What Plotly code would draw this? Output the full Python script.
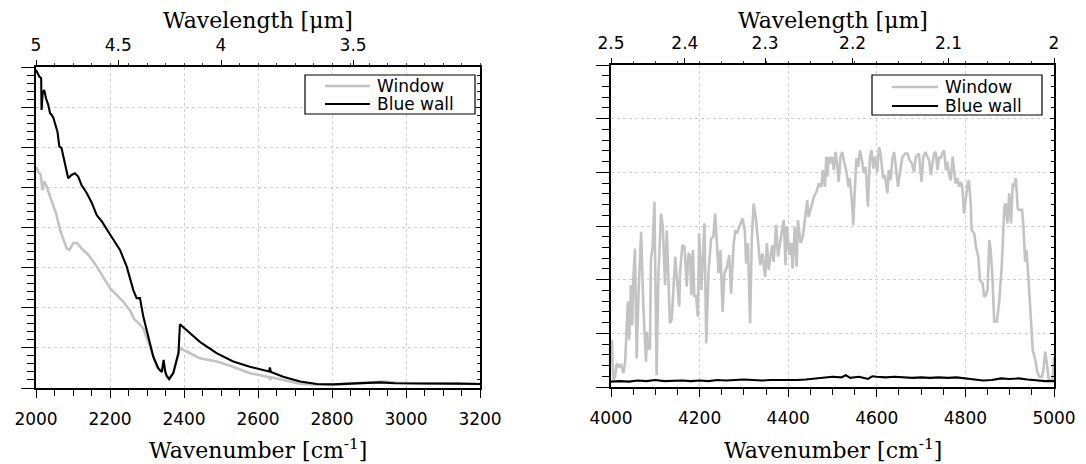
import plotly.graph_objects as go

# ---- 2000-3200 cm-1 range -------------------------------------------------
wall_wn_mir = [2000, 2005, 2009, 2014, 2015, 2018, 2022, 2027, 2033, 2038, 2042, 2047,
               2051, 2058, 2063, 2069, 2074, 2081, 2087, 2096, 2105, 2114, 2123, 2137,
               2151, 2164, 2178, 2195, 2213, 2227, 2245, 2263, 2272, 2281, 2290, 2304,
               2317, 2331, 2340, 2345, 2349, 2353, 2360, 2371, 2385, 2389, 2407, 2443,
               2488, 2533, 2578, 2630, 2632, 2635, 2668, 2714, 2759, 2803, 2849, 2890,
               2930, 2970, 3020, 3080, 3140, 3200]
wall_val_mir = [7.93, 7.82, 7.76, 7.72, 6.93, 7.35, 7.43, 7.22, 7.06, 6.85, 6.81, 6.73,
                6.60, 6.39, 6.02, 5.98, 5.77, 5.44, 5.23, 5.31, 5.35, 5.27, 5.06, 4.86,
                4.61, 4.31, 4.15, 3.90, 3.65, 3.44, 3.03, 2.44, 2.24, 2.24, 1.78, 1.28,
                0.78, 0.48, 0.40, 0.70, 0.42, 0.30, 0.22, 0.37, 0.87, 1.59, 1.45, 1.15,
                0.87, 0.66, 0.53, 0.41, 0.51, 0.40, 0.28, 0.16, 0.10, 0.09, 0.11, 0.12,
                0.14, 0.12, 0.12, 0.11, 0.11, 0.10]

window_wn_mir = [2000, 2006, 2013, 2017, 2022, 2029, 2038, 2045, 2054, 2065, 2074, 2083,
                 2090, 2101, 2110, 2123, 2137, 2146, 2164, 2182, 2200, 2218, 2236, 2255,
                 2265, 2272, 2281, 2290, 2308, 2326, 2340, 2346, 2350, 2358, 2371, 2385,
                 2389, 2407, 2443, 2488, 2533, 2578, 2622, 2630, 2633, 2636, 2668, 2714,
                 2760, 2800, 2850, 2900, 2940, 2980, 3040, 3100, 3150, 3200]
window_val_mir = [5.52, 5.39, 5.31, 4.94, 5.15, 5.02, 4.77, 4.61, 4.36, 3.94, 3.69, 3.48,
                  3.44, 3.61, 3.62, 3.48, 3.36, 3.27, 3.03, 2.76, 2.49, 2.32, 2.15, 1.92,
                  1.72, 1.66, 1.58, 1.49, 1.03, 0.53, 0.42, 0.55, 0.38, 0.24, 0.37, 0.85,
                  0.99, 0.91, 0.74, 0.66, 0.53, 0.37, 0.28, 0.27, 0.20, 0.27, 0.20, 0.11,
                  0.08, 0.08, 0.11, 0.13, 0.16, 0.13, 0.11, 0.11, 0.10, 0.10]

# ---- 4000-5000 cm-1 range -------------------------------------------------
window_wn_nir = [4002, 4005, 4009, 4013, 4018, 4023, 4028, 4032, 4038, 4041, 4045, 4048,
                 4050, 4054, 4058, 4062, 4068, 4073, 4079, 4081, 4084, 4088, 4090, 4094,
                 4098, 4103, 4107, 4113, 4117, 4122, 4126, 4130, 4133, 4137, 4145, 4149,
                 4154, 4156, 4161, 4166, 4171, 4175, 4179, 4181, 4185, 4188, 4192, 4196,
                 4199, 4204, 4209, 4211, 4215, 4220, 4226, 4231, 4235, 4239, 4243, 4247,
                 4252, 4256, 4262, 4267, 4271, 4277, 4281, 4284, 4288, 4292, 4297, 4302,
                 4305, 4309, 4314, 4318, 4322, 4327, 4332, 4337, 4342, 4348, 4352, 4356,
                 4360, 4364, 4367, 4373, 4377, 4382, 4386, 4390, 4394, 4397, 4403, 4407,
                 4410, 4415, 4419, 4422, 4428, 4433, 4437, 4443, 4446, 4452, 4458, 4464,
                 4469, 4475, 4478, 4483, 4486, 4488, 4492, 4495, 4499, 4503, 4507, 4511,
                 4514, 4518, 4522, 4526, 4531, 4536, 4539, 4543, 4547, 4550, 4554, 4558,
                 4562, 4567, 4571, 4575, 4580, 4584, 4588, 4592, 4596, 4601, 4605, 4609,
                 4614, 4618, 4624, 4627, 4631, 4635, 4639, 4643, 4648, 4654, 4658, 4664,
                 4669, 4674, 4679, 4684, 4688, 4695, 4701, 4705, 4710, 4714, 4718, 4722,
                 4726, 4729, 4733, 4737, 4741, 4744, 4748, 4752, 4756, 4759, 4763, 4767,
                 4771, 4774, 4778, 4782, 4786, 4790, 4793, 4797, 4801, 4805, 4808, 4812,
                 4814, 4820, 4824, 4829, 4833, 4839, 4842, 4846, 4850, 4854, 4857, 4861,
                 4865, 4871, 4876, 4882, 4888, 4891, 4895, 4899, 4903, 4907, 4910, 4914,
                 4918, 4921, 4928, 4931, 4935, 4938, 4943, 4948, 4952, 4958, 4962, 4967,
                 4973, 4976, 4980, 4984, 4988, 4997, 5000]
window_val_nir = [0.88, 0.13, 0.19, 0.44, 0.38, 0.41, 0.26, 0.47, 1.59, 0.88, 1.90, 1.15,
                  1.93, 2.58, 0.53, 1.71, 2.89, 1.50, 0.47, 1.03, 0.72, 0.72, 2.36, 2.61,
                  3.45, 0.22, 2.09, 3.23, 2.99, 1.90, 2.92, 1.87, 1.19, 1.25, 2.43, 1.99,
                  1.50, 2.15, 2.64, 2.61, 1.87, 2.49, 2.43, 1.71, 2.55, 1.68, 1.71, 1.31,
                  2.86, 1.81, 2.92, 3.05, 0.81, 2.12, 2.77, 2.80, 3.23, 2.61, 2.12, 2.55,
                  1.40, 2.12, 2.24, 2.46, 1.74, 2.68, 2.92, 2.86, 2.95, 3.05, 3.14, 2.92,
                  2.30, 2.68, 1.19, 2.80, 3.42, 3.14, 2.68, 2.27, 2.49, 2.05, 2.68, 2.18,
                  2.43, 2.64, 2.33, 3.02, 2.43, 2.74, 2.92, 3.11, 2.27, 2.99, 2.46, 2.68,
                  2.21, 2.99, 2.24, 3.11, 2.68, 2.80, 3.11, 3.48, 3.17, 3.36, 3.54, 3.64,
                  3.79, 3.73, 4.04, 3.73, 4.29, 3.92, 4.29, 4.17, 4.29, 4.04, 4.38, 4.10,
                  3.82, 4.29, 4.38, 4.20, 4.04, 3.73, 3.89, 3.54, 3.02, 3.61, 4.26, 4.10,
                  4.41, 4.20, 3.98, 4.10, 3.36, 4.23, 4.41, 4.07, 4.29, 4.01, 4.47, 4.32,
                  3.89, 3.95, 3.61, 4.04, 3.85, 4.23, 4.38, 4.10, 3.73, 4.10, 4.29, 4.35,
                  4.35, 4.23, 4.17, 4.01, 4.29, 4.35, 3.82, 4.29, 4.38, 4.29, 4.23, 3.95,
                  4.23, 4.35, 4.38, 4.04, 4.29, 4.26, 4.35, 4.41, 4.04, 4.20, 3.98, 3.85,
                  4.29, 4.10, 3.79, 3.89, 3.73, 3.82, 3.73, 3.23, 3.48, 3.79, 3.85, 3.42,
                  2.92, 2.86, 2.61, 2.43, 1.99, 1.93, 1.68, 1.71, 1.81, 2.74, 2.55, 2.05,
                  1.22, 1.22, 1.56, 2.24, 3.36, 3.42, 3.05, 3.61, 3.05, 3.79, 3.73, 3.89,
                  3.33, 3.30, 3.30, 2.99, 2.33, 2.55, 1.93, 1.31, 0.69, 0.50, 0.29, 0.19,
                  0.19, 0.32, 0.66, 0.44, 0.13, 0.13, 0.56]

wall_wn_nir = [4000, 4020, 4040, 4060, 4080, 4100, 4120, 4140, 4160, 4180, 4200, 4220,
               4240, 4260, 4280, 4300, 4320, 4340, 4360, 4380, 4400, 4420, 4440, 4460,
               4480, 4500, 4520, 4530, 4540, 4560, 4580, 4590, 4600, 4620, 4640, 4660,
               4680, 4700, 4720, 4740, 4760, 4780, 4800, 4820, 4840, 4860, 4880, 4900,
               4920, 4940, 4960, 4980, 5000]
wall_val_nir = [0.10, 0.11, 0.10, 0.12, 0.11, 0.13, 0.11, 0.12, 0.12, 0.11, 0.12, 0.11,
                0.13, 0.12, 0.13, 0.14, 0.13, 0.12, 0.13, 0.13, 0.12, 0.13, 0.14, 0.16,
                0.17, 0.19, 0.18, 0.22, 0.17, 0.19, 0.15, 0.20, 0.19, 0.18, 0.19, 0.18,
                0.17, 0.18, 0.17, 0.18, 0.17, 0.18, 0.16, 0.15, 0.12, 0.13, 0.16, 0.15,
                0.16, 0.14, 0.12, 0.11, 0.11]

# ---- axis labels -----------------------------------------------------------
wn_ticks_mir = [2000, 2200, 2400, 2600, 2800, 3000, 3200]
wn_ticks_nir = [4000, 4200, 4400, 4600, 4800, 5000]
um_labels_mir = ["5", "4.5", "4", "3.5"]
um_labels_nir = ["2.5", "2.4", "2.3", "2.2", "2.1", "2"]
series_names = ["Window", "Blue wall"]

GRAY = "#c3c3c3"
BLACK = "#000000"
SANS = "DejaVu Sans"
SERIF = "DejaVu Serif"
W, H = 1086, 464
LINE_W = {"Window": 2.6, "Blue wall": 2.1}
COLORS = {"Window": GRAY, "Blue wall": BLACK}


def um_to_wn(labels):
    return [1e4 / float(s) for s in labels]


fig = go.Figure()

panels = [
    ("x", "y", [(window_wn_mir, window_val_mir), (wall_wn_mir, wall_val_mir)]),
    ("x3", "y2", [(window_wn_nir, window_val_nir), (wall_wn_nir, wall_val_nir)]),
]
for xa, ya, series in panels:
    for name, (xs, ys) in zip(series_names, series):
        fig.add_trace(go.Scatter(x=xs, y=ys, mode="lines", name=name,
                                 line=dict(color=COLORS[name], width=LINE_W[name]),
                                 xaxis=xa, yaxis=ya, showlegend=False))

# invisible traces keep the overlay axes alive
fig.add_trace(go.Scatter(x=[2000], y=[0], xaxis="x2", yaxis="y3", mode="lines",
                         showlegend=False, hoverinfo="skip", line=dict(width=0)))
fig.add_trace(go.Scatter(x=[4000], y=[0], xaxis="x4", yaxis="y4", mode="lines",
                         showlegend=False, hoverinfo="skip", line=dict(width=0)))

# plot-area placement (pixels -> paper)
L_X = [36 / W, 480 / W]
R_X = [611 / W, 1054 / W]
L_Y = [1 - 388 / H, 1 - 67 / H]
R_Y = [1 - 387 / H, 1 - 65 / H]

tickfont = dict(family=SANS, size=17, color="black")
axline = dict(showline=True, linecolor="black", linewidth=1.5, zeroline=False,
              automargin=False)
grid = dict(showgrid=True, gridcolor="#cfcfcf", griddash="dot", gridwidth=1)


def bottom_axis(dom, rng, ticks, anchor):
    return dict(domain=dom, range=rng, anchor=anchor, tickmode="array", tickvals=ticks,
                ticks="outside", ticklen=8, tickwidth=1.3, tickcolor="black",
                tickfont=tickfont, ticklabelstandoff=7,
                minor=dict(dtick=50, tick0=rng[0], ticks="outside", ticklen=6,
                           tickwidth=1.1, tickcolor="black", showgrid=False),
                **axline, **grid)


def top_axis(rng, labels, overlay, anchor):
    return dict(range=rng, overlaying=overlay, side="top", anchor=anchor,
                tickmode="array", tickvals=um_to_wn(labels), ticktext=labels,
                ticks="outside", ticklen=5, tickwidth=1.3, tickcolor="black",
                tickfont=tickfont, ticklabelstandoff=2, showgrid=False,
                minor=dict(tickmode="linear", tick0=rng[0], dtick=50, ticks="outside",
                           ticklen=2, tickwidth=1, tickcolor="#444444", showgrid=False),
                **axline)


def left_axis(dom, rng, anchor):
    return dict(domain=dom, range=rng, anchor=anchor, dtick=1, showticklabels=False,
                ticks="outside", ticklen=13, tickwidth=1.3, tickcolor="black",
                minor=dict(dtick=0.2, ticks="outside", ticklen=7, tickwidth=1.1,
                           tickcolor="black", showgrid=False),
                **axline, **grid)


def right_axis(rng, overlay, anchor):
    return dict(range=rng, overlaying=overlay, side="right", anchor=anchor, dtick=1,
                showticklabels=False, ticks="inside", ticklen=4, tickwidth=1,
                tickcolor="black", showgrid=False,
                minor=dict(dtick=0.2, ticks="inside", ticklen=3, tickwidth=1,
                           tickcolor="black"),
                **axline)


fig.update_layout(
    width=W, height=H,
    margin=dict(l=0, r=0, t=0, b=0, autoexpand=False),
    paper_bgcolor="white", plot_bgcolor="white",
    showlegend=False,
    xaxis=bottom_axis(L_X, [2000, 3200], wn_ticks_mir, "y"),
    xaxis2=top_axis([2000, 3200], um_labels_mir, "x", "y"),
    xaxis3=bottom_axis(R_X, [4000, 5000], wn_ticks_nir, "y2"),
    xaxis4=top_axis([4000, 5000], um_labels_nir, "x3", "y2"),
    yaxis=left_axis(L_Y, [0, 8], "x"),
    yaxis2=left_axis(R_Y, [0, 6], "x3"),
    yaxis3=right_axis([0, 8], "y", "x"),
    yaxis4=right_axis([0, 6], "y2", "x3"),
)

# legend boxes (paper pixels: left, top, right, bottom, sample start/end, row centres)
legend_boxes = [
    dict(box=(305, 75, 475, 114), sample=(325, 370), rows=(86, 104)),
    dict(box=(872, 75, 1042, 115), sample=(892, 938), rows=(87, 106)),
]
legend_font = dict(family=SANS, size=17, color="black")
for lb in legend_boxes:
    x0, y0, x1, y1 = lb["box"]
    fig.add_shape(type="rect", xref="paper", yref="paper",
                  x0=x0 / W, x1=x1 / W, y0=1 - y1 / H, y1=1 - y0 / H,
                  line=dict(color="black", width=1.2), fillcolor="white", layer="above")
    s0, s1 = lb["sample"]
    for name, ry in zip(series_names, lb["rows"]):
        fig.add_shape(type="line", xref="paper", yref="paper",
                      x0=s0 / W, x1=s1 / W, y0=1 - ry / H, y1=1 - ry / H,
                      line=dict(color=COLORS[name], width=LINE_W[name]), layer="above")
        fig.add_annotation(text=name, x=(s1 + 5) / W, y=1 - ry / H, xref="paper",
                           yref="paper", showarrow=False, xanchor="left",
                           yanchor="middle", font=legend_font)

title_font = dict(family=SERIF, size=22, color="black")
for cx in [(L_X[0] + L_X[1]) / 2, (R_X[0] + R_X[1]) / 2]:
    fig.add_annotation(text="Wavelength [\u03bcm]", x=cx, y=1 - 20 / H, xref="paper",
                       yref="paper", showarrow=False, xanchor="center", yanchor="middle",
                       font=title_font)
    fig.add_annotation(text="Wavenumber [cm<sup>-1</sup>]", x=cx, y=1 - 449 / H,
                       xref="paper", yref="paper", showarrow=False, xanchor="center",
                       yanchor="middle", font=title_font)

fig.write_html("out.html")
